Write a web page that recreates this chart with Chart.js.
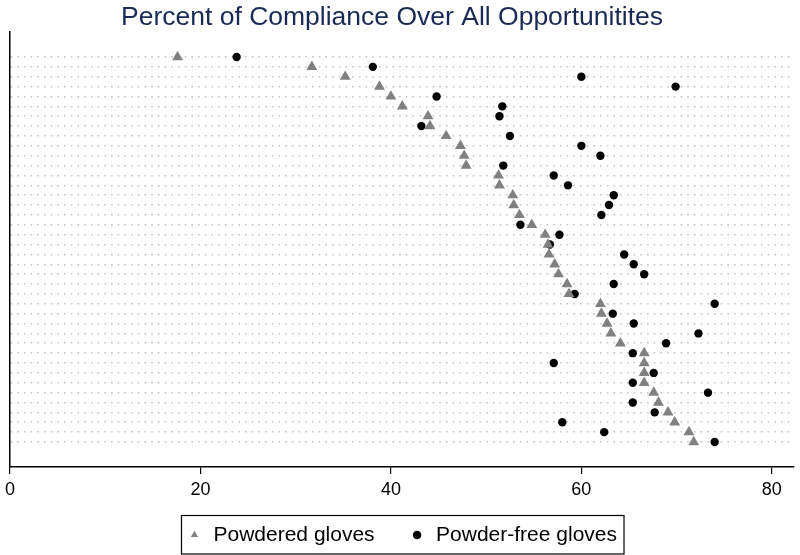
<!DOCTYPE html>
<html lang="en">
<head>
  <meta charset="UTF-8">
  <title>Percent of Compliance Over All Opportunitites</title>
  <script src="https://cdn.jsdelivr.net/npm/chart.js"></script>
  <style>
    html, body { margin: 0; padding: 0; background: #fff; }
    #wrap { width: 800px; height: 555px; position: relative; }
  </style>
</head>
<body>
  <div id="wrap"><canvas id="chart"></canvas></div>

  <script>
    // one row per unit, top to bottom
    const powdered = [17.6, 31.7, 35.2, 38.8, 40.0, 41.2, 43.9, 44.1, 45.8, 47.3,
                      47.7, 47.9, 51.3, 51.4, 52.8, 52.9, 53.5, 54.8, 56.2, 56.5,
                      56.6, 57.2, 57.6, 58.5, 58.7, 62.0, 62.1, 62.7, 63.1, 64.1,
                      66.6, 66.6, 66.6, 66.6, 67.6, 68.1, 69.1, 69.8, 71.3, 71.8];
    const powderFree = [23.8, 38.1, 60.0, 69.9, 44.8, 51.7, 51.4, 43.2, 52.5, 60.0,
                        62.0, 51.8, 57.1, 58.6, 63.4, 62.9, 62.1, 53.6, 57.7, 56.7,
                        64.5, 65.5, 66.6, 63.4, 59.3, 74.0, 63.3, 65.5, 72.3, 68.9,
                        65.4, 57.1, 67.6, 65.4, 73.3, 65.4, 67.7, 58.0, 62.4, 74.0];
    const rows = powdered.map((v, i) => i + 1);
    const xTicks = [0, 20, 40, 60, 80];

    const font = 'Liberation Sans, Arial, Helvetica, sans-serif';

    // nudge title a little left, lift legend items, frame the legend
    const legendFrame = {
      id: 'legendFrame',
      afterLayout(chart) {
        chart.titleBlock.left -= 19;
        chart.legend.top -= 16.5;
      },
      afterDraw(chart) {
        const hb = chart.legend.legendHitBoxes;
        if (!hb || !hb.length) return;
        const first = hb[0], last = hb[hb.length - 1];
        const left = first.left - 4.5;
        const right = last.left + last.width + 7;
        const top = first.top - 9;
        const bottom = first.top + first.height + 8.5;
        const ctx = chart.ctx;
        ctx.save();
        ctx.strokeStyle = '#000';
        ctx.lineWidth = 1.2;
        ctx.strokeRect(left, top, right - left, bottom - top);
        ctx.restore();
      }
    };

    new Chart(document.getElementById('chart'), {
      type: 'scatter',
      data: {
        datasets: [{
          label: 'Powdered gloves',
          data: rows.map((r, i) => ({ x: powdered[i], y: r })),
          pointStyle: 'triangle',
          pointRadius: 6.3,
          backgroundColor: '#808080',
          borderColor: '#808080',
          borderWidth: 0
        }, {
          label: 'Powder-free gloves',
          data: rows.map((r, i) => ({ x: powderFree[i], y: r })),
          pointStyle: 'circle',
          pointRadius: 4.2,
          backgroundColor: '#000',
          borderColor: '#000',
          borderWidth: 0
        }]
      },
      options: {
        responsive: true,
        maintainAspectRatio: false,
        animation: false,
        layout: { padding: { left: 5, right: 2, top: 0, bottom: 0 } },
        scales: {
          x: {
            type: 'linear',
            min: 0,
            max: 82.3,
            afterBuildTicks: s => { s.ticks = xTicks.map(v => ({ value: v })); },
            afterFit: s => { s.height = 40; },
            grid: { drawOnChartArea: false, drawTicks: true, tickLength: 7, color: '#000', lineWidth: 1.2 },
            border: { display: true, color: '#000', width: 1.5 },
            ticks: { color: '#000', font: { family: font, size: 18 }, padding: 5, maxRotation: 0 }
          },
          y: {
            type: 'linear',
            reverse: true,
            min: -1.53,
            max: 42.53,
            afterBuildTicks: s => { s.ticks = rows.map(v => ({ value: v })); },
            afterFit: s => { s.width = 0; },
            grid: { drawTicks: false, color: '#c4c4c4', lineWidth: 1.6 },
            border: { display: true, color: '#000', width: 1.5, dash: [1.6, 5.1] },
            ticks: { display: false }
          }
        },
        plugins: {
          title: {
            display: true,
            text: 'Percent of Compliance Over All Opportunitites',
            color: '#1b2a55',
            font: { family: font, size: 26.5, weight: 'normal', lineHeight: '29px' },
            padding: { top: 3, bottom: 0 }
          },
          legend: {
            display: true,
            position: 'bottom',
            maxHeight: 48,
            labels: {
              usePointStyle: true,
              boxWidth: 17,
              boxHeight: 6,
              padding: 34,
              color: '#000',
              font: { family: font, size: 21 }
            }
          },
          tooltip: { enabled: false }
        }
      },
      plugins: [legendFrame]
    });
  </script>
</body>
</html>
